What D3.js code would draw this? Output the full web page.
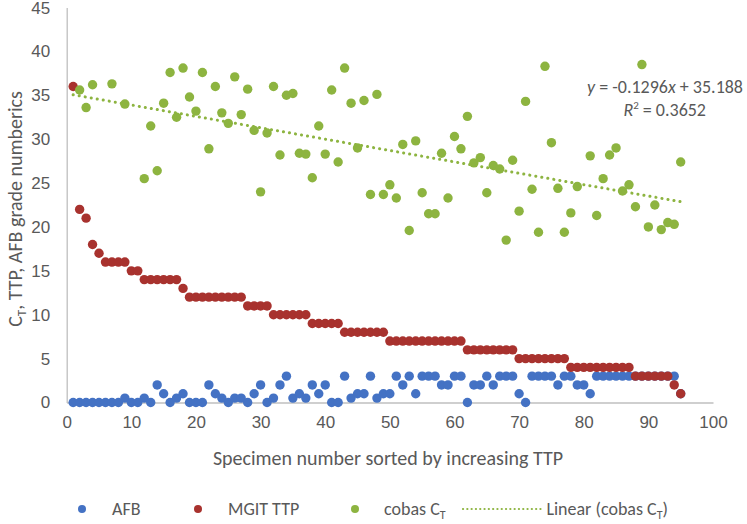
<!DOCTYPE html>
<html>
<head>
<meta charset="utf-8">
<script src="https://cdn.jsdelivr.net/npm/d3@7"></script>
<style>
  html, body { margin: 0; padding: 0; background: #fff; }
  svg { display: block; font-family: Carlito, Lato, "Open Sans", sans-serif; }
</style>
</head>
<body>
<svg id="chart" width="747" height="524"></svg>
<script>
// ---- data ----
const specimens = d3.range(1, 96);
const afb = [0,0,0,0,0,0,0,0,0.5,0,0,0.5,0,2,1,0,0.5,1,0,0,0,2,1,0.5,0,0.5,0.5,0,1,2,
  0,0.5,2,3,0.5,1,0.5,2,1,2,0,0,3,0.5,1,1,3,0.5,1,1,3,2,3,1,3,3,3,2,2,3,
  3,0,2,2,3,2,3,3,3,1,0,3,3,3,3,2,3,3,2,2,1,3,3,3,3,3,3,3,3,3,3,3,3,3,1];
const mgitTTP = [36,22,21,18,17,16,16,16,16,15,15,14,14,14,14,14,14,13,12,12,12,12,12,12,12,12,12,11,11,11,
  11,10,10,10,10,10,10,9,9,9,9,9,8,8,8,8,8,8,8,7,7,7,7,7,7,7,7,7,7,7,
  7,6,6,6,6,6,6,6,6,5,5,5,5,5,5,5,5,4,4,4,4,4,4,4,4,4,4,3,3,3,3,3,3,2,1];
const cobasCT = [null,35.6,33.6,36.2,null,null,36.3,null,34.0,null,null,25.5,31.5,26.4,34.1,37.6,32.5,38.1,34.8,33.2,
  37.6,28.9,36.0,33.0,31.8,37.1,32.8,35.7,31.0,24.0,30.7,36.0,28.2,35.0,35.2,28.4,28.3,25.6,31.5,28.3,
  35.6,27.4,38.1,34.1,29.0,34.4,23.7,35.1,23.7,24.8,23.3,29.4,19.6,29.8,23.9,21.5,21.5,28.4,23.3,30.3,
  28.9,32.6,27.3,27.9,23.9,27.0,26.6,18.5,27.6,21.8,34.3,24.3,19.4,38.3,29.6,24.4,19.4,21.6,24.6,null,
  28.1,21.3,25.5,28.2,29.0,24.1,24.8,22.3,38.5,20.0,22.5,19.7,20.5,20.3,27.4];
const trendSlope = -0.1296;
const trendIntercept = 35.188;
const trendR2 = 0.3652;
const xTicks = [0,10,20,30,40,50,60,70,80,90,100];
const yTicks = [0,5,10,15,20,25,30,35,40,45];

// ---- layout ----
const svg = d3.select("#chart");
svg.append("rect").attr("width", 747).attr("height", 524).attr("fill", "#fff");
const x = d3.scaleLinear().domain([0, 100]).range([66.7, 713]);
const y = d3.scaleLinear().domain([0, 45]).range([402.5, 7.5]);
const textCol = "#595959";
const axisCol = "#bfbfbf";
const colors = { afb: "#4472C4", mgit: "#A8322E", cobas: "#8DB440" };
const tickFont = "17px";

// y axis
const yAxis = svg.append("g").attr("transform", `translate(${x(0)},0)`)
  .call(d3.axisLeft(y).tickValues(yTicks).tickSize(0).tickPadding(16.5));
yAxis.select(".domain").attr("stroke", axisCol).attr("stroke-width", 1.3);
yAxis.selectAll("text").attr("fill", textCol).style("font-size", tickFont);
yAxis.selectAll(".tick text").filter(d => d === 45).attr("dy", "0.36em");

// x axis
const xAxis = svg.append("g").attr("transform", `translate(0,${y(0)})`)
  .call(d3.axisBottom(x).tickValues(xTicks).tickSize(0).tickPadding(13.5));
xAxis.select(".domain").attr("stroke", axisCol).attr("stroke-width", 1.3);
xAxis.selectAll("text").attr("fill", textCol).style("font-size", tickFont);

// axis titles
svg.append("text").attr("x", 388).attr("y", 465).attr("text-anchor", "middle")
  .attr("fill", textCol).style("font-size", "20px")
  .text("Specimen number sorted by increasing TTP");
const yt = svg.append("text").attr("transform", "translate(22,209) rotate(-90)")
  .attr("text-anchor", "middle").attr("fill", textCol).style("font-size", "20px");
yt.append("tspan").text("C");
yt.append("tspan").attr("dy", 4).style("font-size", "13px").text("T");
yt.append("tspan").attr("dy", -4).text(", TTP, AFB grade numberics");

// series
const mk = (arr) => specimens.map((s, i) => ({ s, v: arr[i] })).filter(d => d.v !== null);
const r = 4.7;
svg.append("g").selectAll("circle").data(mk(afb)).join("circle")
  .attr("cx", d => x(d.s)).attr("cy", d => y(d.v)).attr("r", r).attr("fill", colors.afb);
svg.append("g").selectAll("circle").data(mk(mgitTTP)).join("circle")
  .attr("cx", d => x(d.s)).attr("cy", d => y(d.v)).attr("r", r).attr("fill", colors.mgit);
svg.append("g").selectAll("circle").data(mk(cobasCT)).join("circle")
  .attr("cx", d => x(d.s)).attr("cy", d => y(d.v)).attr("r", r).attr("fill", colors.cobas);

// trendline
const trendPts = [d3.min(specimens), d3.max(specimens)].map(s => [x(s), y(trendSlope * s + trendIntercept)]);
svg.append("path").attr("d", d3.line()(trendPts)).attr("fill", "none")
  .attr("stroke", colors.cobas).attr("stroke-width", 3)
  .attr("stroke-dasharray", "0.1,6").attr("stroke-linecap", "round");

// equation
const eq = svg.append("text").attr("x", 743).attr("y", 93).attr("text-anchor", "end")
  .attr("fill", textCol).style("font-size", "18px");
eq.append("tspan").style("font-style", "italic").text("y");
eq.append("tspan").text(" = " + trendSlope);
eq.append("tspan").style("font-style", "italic").text("x");
eq.append("tspan").text(" + " + trendIntercept);
const r2 = svg.append("text").attr("x", 706).attr("y", 116).attr("text-anchor", "end")
  .attr("fill", textCol).style("font-size", "18px");
r2.append("tspan").style("font-style", "italic").text("R");
r2.append("tspan").attr("dy", -7).style("font-size", "11px").text("2");
r2.append("tspan").attr("dy", 7).text(" = " + trendR2);

// legend
const leg = svg.append("g").style("font-size", "18px").attr("fill", textCol);
const legY = 509;
const items = [
  { type: "dot", c: colors.afb, mx: 82, tx: 112, label: ["AFB"] },
  { type: "dot", c: colors.mgit, mx: 198, tx: 228, label: ["MGIT TTP"] },
  { type: "dot", c: colors.cobas, mx: 355, tx: 384, label: ["cobas C", "T"] },
  { type: "line", c: colors.cobas, mx: 463, tx: 668, label: ["Linear (cobas C", "T", ")"] }
];
items.forEach(it => {
  const t = leg.append("text").attr("x", it.tx).attr("y", legY + 6);
  t.append("tspan").text(it.label[0]);
  if (it.label[1]) t.append("tspan").attr("dy", 4).style("font-size", "12px").text(it.label[1]);
  if (it.label[2]) t.append("tspan").attr("dy", -4).text(it.label[2]);
  if (it.type === "dot") {
    leg.append("circle").attr("cx", it.mx).attr("cy", legY).attr("r", 4).attr("fill", it.c);
  } else {
    t.attr("text-anchor", "end");
    const startX = t.node().getBBox().x;
    leg.append("path").attr("d", d3.line()([[it.mx, legY], [startX - 2, legY]]))
      .attr("stroke", it.c).attr("stroke-width", 2.2).attr("stroke-dasharray", "0.1,4.2")
      .attr("stroke-linecap", "round");
  }
});
</script>
</body>
</html>
